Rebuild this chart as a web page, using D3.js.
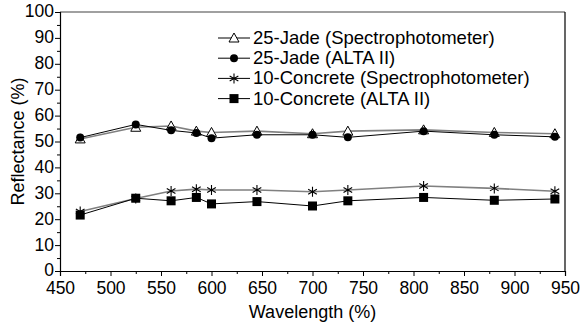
<!DOCTYPE html>
<html>
<head>
<meta charset="utf-8">
<script src="https://cdn.jsdelivr.net/npm/d3@7"></script>
<style>
  body { margin: 0; background: #fff; }
  text { font-family: "Liberation Sans", Arial, sans-serif; fill: #000; }
</style>
</head>
<body>
<div id="g1"></div>
<script>
var wavelengths = [470, 525, 560, 585, 600, 645, 700, 735, 810, 880, 940];
var jadeSpectro = [51, 55.5, 56, 54, 53.5, 54, 53, 54, 54.5, 53.5, 53];
var jadeAlta = [51.5, 56.6, 54.3, 53.3, 51.3, 52.6, 52.6, 51.6, 54, 52.6, 51.8];
var concreteSpectro = [23, 28, 30.9, 31.6, 31.3, 31.3, 30.6, 31.3, 32.8, 31.9, 30.8];
var concreteAlta = [21.6, 28.1, 27.1, 28.4, 25.9, 26.8, 25.1, 27.1, 28.4, 27.3, 27.8];
var seriesNames = ["25-Jade (Spectrophotometer)", "25-Jade (ALTA II)", "10-Concrete (Spectrophotometer)", "10-Concrete (ALTA II)"];
var xTicks = [450, 500, 550, 600, 650, 700, 750, 800, 850, 900, 950];
var yTicks = [0, 10, 20, 30, 40, 50, 60, 70, 80, 90, 100];

var width = 584, height = 326;
var margin = {top: 12, right: 19, bottom: 55, left: 60};

var svg = d3.select("#g1").append("svg")
  .attr("width", width)
  .attr("height", height);

var x = d3.scaleLinear().domain([450, 950]).range([margin.left, width - margin.right]);
var y = d3.scaleLinear().domain([0, 100]).range([height - margin.bottom, margin.top]);

var series = [
  {name: seriesNames[0], values: jadeSpectro, color: "#808080", w: 1.6, sym: "triangle"},
  {name: seriesNames[1], values: jadeAlta, color: "#000", w: 1, sym: "circle"},
  {name: seriesNames[2], values: concreteSpectro, color: "#808080", w: 1.6, sym: "star"},
  {name: seriesNames[3], values: concreteAlta, color: "#000", w: 1, sym: "square"}
];

// frame: top gray, right black
svg.append("line")
  .attr("x1", x(450)).attr("x2", x(950))
  .attr("y1", y(100)).attr("y2", y(100))
  .attr("stroke", "#808080").attr("stroke-width", 1.5);
svg.append("line")
  .attr("x1", x(950)).attr("x2", x(950))
  .attr("y1", y(100)).attr("y2", y(0))
  .attr("stroke", "#000").attr("stroke-width", 1.2);

// minor ticks
var xMinor = d3.range(475, 950, 50);
var yMinor = d3.range(5, 100, 10);

svg.append("g")
  .attr("transform", "translate(0," + y(0) + ")")
  .call(d3.axisBottom(x).tickValues(xTicks).tickSize(5).tickPadding(6).tickFormat(d3.format("d")));
svg.append("g")
  .attr("transform", "translate(0," + y(0) + ")")
  .call(d3.axisBottom(x).tickValues(xMinor).tickSize(3).tickFormat(""))
  .select(".domain").remove();

var yAxis = svg.append("g")
  .attr("transform", "translate(" + x(450) + ",0)")
  .call(d3.axisLeft(y).tickValues(yTicks).tickSize(5).tickPadding(1).tickFormat(d3.format("d")));
yAxis.selectAll(".tick text").attr("dy", "0.28em");
svg.append("g")
  .attr("transform", "translate(" + x(450) + ",0)")
  .call(d3.axisLeft(y).tickValues(yMinor).tickSize(3).tickFormat(""))
  .select(".domain").remove();

svg.selectAll(".domain").attr("stroke", "#000").attr("stroke-width", 1.2);
svg.selectAll(".tick text").style("font-size", "17.5px").style("font-family", "Liberation Sans, Arial, sans-serif");

// axis titles
svg.append("text")
  .attr("x", (x(450) + x(950)) / 2)
  .attr("y", 318)
  .attr("text-anchor", "middle")
  .style("font-size", "18px")
  .text("Wavelength (%)");
svg.append("text")
  .attr("transform", "translate(24," + y(50) + ") rotate(-90)")
  .attr("text-anchor", "middle")
  .style("font-size", "18px")
  .text("Reflectance (%)");

function drawSymbol(g, sym, cx, cy) {
  if (sym === "triangle") {
    g.append("path")
      .attr("d", "M" + cx + "," + (cy - 5) + "L" + (cx + 5) + "," + (cy + 4) + "L" + (cx - 5) + "," + (cy + 4) + "Z")
      .attr("fill", "#fff").attr("stroke", "#000").attr("stroke-width", 1);
  } else if (sym === "circle") {
    g.append("circle").attr("cx", cx).attr("cy", cy).attr("r", 4).attr("fill", "#000");
  } else if (sym === "square") {
    g.append("rect").attr("x", cx - 4.5).attr("y", cy - 4.5).attr("width", 9).attr("height", 9).attr("fill", "#000");
  } else if (sym === "star") {
    var r = 5;
    var p = "";
    [0, 60, 120].forEach(function(a) {
      var rad = (a + 90) * Math.PI / 180;
      p += "M" + (cx - r * Math.cos(rad)) + "," + (cy - r * Math.sin(rad)) + "L" + (cx + r * Math.cos(rad)) + "," + (cy + r * Math.sin(rad));
    });
    g.append("path").attr("d", p).attr("stroke", "#000").attr("stroke-width", 1.1).attr("fill", "none");
  }
}

var line = d3.line()
  .x(function(d, i) { return x(wavelengths[i]); })
  .y(function(d) { return y(d); });

series.forEach(function(s) {
  var g = svg.append("g");
  g.append("path")
    .attr("d", line(s.values))
    .attr("fill", "none")
    .attr("stroke", s.color)
    .attr("stroke-width", s.w);
  s.values.forEach(function(v, i) {
    drawSymbol(g, s.sym, x(wavelengths[i]), y(v));
  });
});

// legend
var legend = svg.append("g").attr("transform", "translate(218,38)");
series.forEach(function(s, i) {
  var g = legend.append("g").attr("transform", "translate(0," + (i * 20.2) + ")");
  g.append("line").attr("x1", 0).attr("x2", 32).attr("y1", 0).attr("y2", 0)
    .attr("stroke", "#000").attr("stroke-width", 1);
  drawSymbol(g, s.sym, 16, 0);
  g.append("text").attr("x", 35).attr("y", 6)
    .style("font-size", "18.5px")
    .text(s.name);
});
</script>
</body>
</html>
